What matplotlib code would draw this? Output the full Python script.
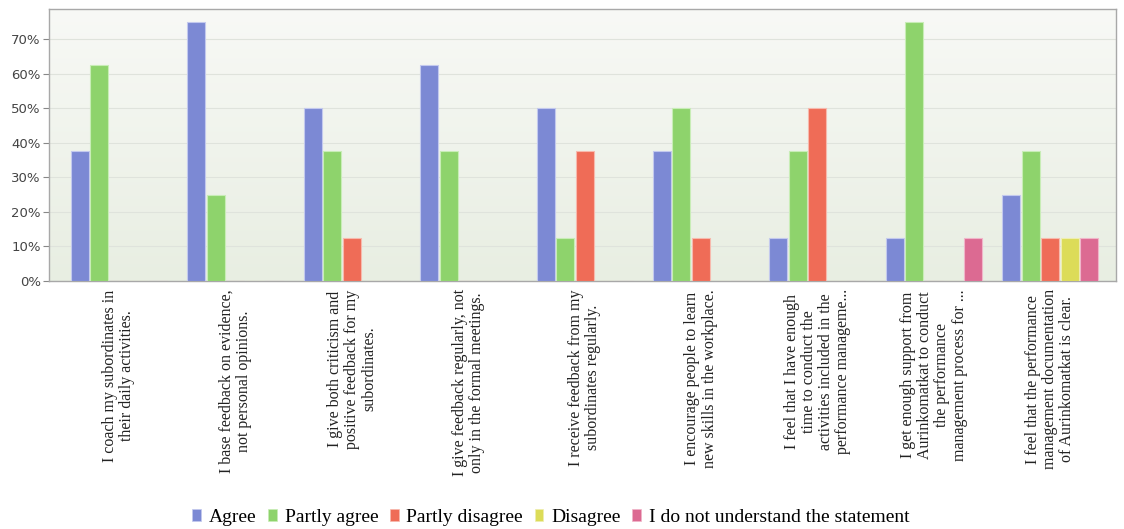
import numpy as np
import matplotlib
matplotlib.use("Agg")
import matplotlib.pyplot as plt
from matplotlib.patches import Patch

# Data (share of respondents, %)
statements = [
    "I coach my subordinates in\ntheir daily activities.",
    "I base feedback on evidence,\nnot personal opinions.",
    "I give both criticism and\npositive feedback for my\nsubordinates.",
    "I give feedback regularly, not\nonly in the formal meetings.",
    "I receive feedback from my\nsubordinates regularly.",
    "I encourage people to learn\nnew skills in the workplace.",
    "I feel that I have enough\ntime to conduct the\nactivities included in the\nperformance manageme...",
    "I get enough support from\nAurinkomatkat to conduct\nthe performance\nmanagement process for ...",
    "I feel that the performance\nmanagement documentation\nof Aurinkomatkat is clear.",
]
series_names = ["Agree", "Partly agree", "Partly disagree", "Disagree",
                "I do not understand the statement"]
agree = [37.5, 75, 50, 62.5, 50, 37.5, 12.5, 12.5, 25]
partly_agree = [62.5, 25, 37.5, 37.5, 12.5, 50, 37.5, 75, 37.5]
partly_disagree = [0, 0, 12.5, 0, 37.5, 12.5, 50, 0, 12.5]
disagree = [0, 0, 0, 0, 0, 0, 0, 0, 12.5]
not_understand = [0, 0, 0, 0, 0, 0, 0, 12.5, 12.5]
y_ticks = [0, 10, 20, 30, 40, 50, 60, 70]

COLORS = ['#7c89d4', '#8ed36c', '#ef6c57', '#dcdc58', '#dc6a92']
EDGES = ['#c3c9ee', '#c8edb6', '#f7b9ad', '#eeeeb0', '#f0b5c9']

fig = plt.figure(figsize=(11.24, 5.29), dpi=100)
ax = fig.add_axes([0.0436, 0.4688, 0.9493, 0.5142])

# background gradient of the plot area
grad = np.linspace(0, 1, 256).reshape(-1, 1)
cmap = matplotlib.colors.LinearSegmentedColormap.from_list('bg', ['#e8eee2', '#f8f9f6'])
ax.imshow(grad, aspect='auto', cmap=cmap, origin='lower',
          extent=[-0.6, 8.565, 0, 78.7], zorder=0)

x = np.arange(len(statements))
step = 0.1675
width = 0.155
all_series = [agree, partly_agree, partly_disagree, disagree, not_understand]
for i, vals in enumerate(all_series):
    ax.bar(x + (i - 2) * step, vals, width=width, color=COLORS[i],
           edgecolor=EDGES[i], linewidth=0.8, zorder=3)

ax.set_xlim(-0.6, 8.565)
ax.set_ylim(0, 78.7)
ax.set_yticks(y_ticks)
ax.set_yticklabels([f"{v}%" for v in y_ticks], fontsize=9.5, color='#444444',
                   family='DejaVu Sans')
ax.yaxis.grid(True, color='#dfe3dc', linewidth=0.8, zorder=1)
ax.set_axisbelow(True)
ax.tick_params(axis='y', length=4, color='#888888', pad=2)

ax.set_xticks(x)
ax.set_xticklabels(statements, rotation=90, fontsize=11.5, family='Liberation Serif',
                   color='#222222', ha='center', va='top', multialignment='center',
                   linespacing=1.1)
ax.tick_params(axis='x', length=0, pad=6)

for side in ['top', 'right', 'left', 'bottom']:
    ax.spines[side].set_color('#a8a8a8')
    ax.spines[side].set_linewidth(1.0)

handles = [Patch(facecolor=c, edgecolor=e, linewidth=0.5) for c, e in zip(COLORS, EDGES)]
fig.legend(handles, series_names, loc='center', bbox_to_anchor=(0.49, 0.022),
           ncol=5, frameon=False, prop={'family': 'Liberation Serif', 'size': 14},
           handlelength=0.45, handleheight=0.6, handletextpad=0.4, columnspacing=0.6,
           borderpad=0)

fig.savefig('out.png', dpi=100, facecolor='white')
